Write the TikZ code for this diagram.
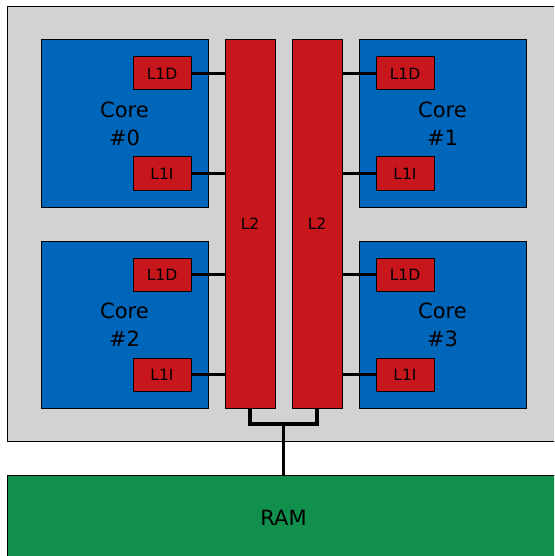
\documentclass[tikz,border=0pt]{standalone}
\usepackage{fontspec}
\setmainfont{DejaVu Sans}
\usepackage{tikz}
\definecolor{chipgray}{HTML}{D2D2D2}
\definecolor{corecolor}{HTML}{0066BA}
\definecolor{cachecolor}{HTML}{C8161D}
\definecolor{ramcolor}{HTML}{10904C}
\tikzset{
  hw chip/.style={draw=black,fill=chipgray,line width=1pt},
  hw core/.style={draw=black,fill=corecolor,line width=1pt,minimum width=167pt,minimum height=167pt,align=center,font=\fontsize{21}{28}\selectfont},
  hw cache/.style={draw=black,fill=cachecolor,line width=1pt,minimum width=58pt,minimum height=33pt,inner sep=0pt,font=\fontsize{15.5}{18}\selectfont},
  hw l2/.style={draw=black,fill=cachecolor,line width=1pt,minimum width=50pt,minimum height=368pt,inner sep=0pt,font=\fontsize{15.5}{18}\selectfont},
  hw ram/.style={draw=black,fill=ramcolor,line width=1pt,minimum width=553pt,minimum height=85pt,font=\fontsize{21}{28}\selectfont},
  hw link/.style={black,line width=3.6pt}
}
\begin{document}
\begin{tikzpicture}[x=1pt,y=-1pt]
  \clip (0,0) rectangle (554,556);
  \fill[white] (0,0) rectangle (554,556);
  \draw[hw chip] (7,7) rectangle (560,441);
  % cores
  \node[hw core] (core0) at (124.5,123.5) {Core\\\#0};
  \node[hw core] (core1) at (442.5,123.5) {Core\\\#1};
  \node[hw core] (core2) at (124.5,324.5) {Core\\\#2};
  \node[hw core] (core3) at (442.5,324.5) {Core\\\#3};
  % shared caches
  \node[hw l2] (l2a) at (250,224) {L2};
  \node[hw l2] (l2b) at (317,224) {L2};
  % private caches
  \node[hw cache] (l1d0) at (162,73.5) {L1D};
  \node[hw cache] (l1i0) at (162,173.5) {L1I};
  \node[hw cache] (l1d1) at (405,73.5) {L1D};
  \node[hw cache] (l1i1) at (405,173.5) {L1I};
  \node[hw cache] (l1d2) at (162,274.5) {L1D};
  \node[hw cache] (l1i2) at (162,374.5) {L1I};
  \node[hw cache] (l1d3) at (405,274.5) {L1D};
  \node[hw cache] (l1i3) at (405,374.5) {L1I};
  \foreach \c in {0,2}{
    \draw[hw link] (l1d\c.east) -- (l1d\c.east -| l2a.west);
    \draw[hw link] (l1i\c.east) -- (l1i\c.east -| l2a.west);
  }
  \foreach \c in {1,3}{
    \draw[hw link] (l1d\c.west) -- (l1d\c.west -| l2b.east);
    \draw[hw link] (l1i\c.west) -- (l1i\c.west -| l2b.east);
  }
  % memory
  \node[hw ram] (ram) at (283.5,517.5) {RAM};
  \coordinate (bus) at (283.5,424);
  \draw[hw link] (l2a.south) |- (bus) -| (l2b.south);
  \draw[hw link] (bus) -- (ram.north);
\end{tikzpicture}
\end{document}
